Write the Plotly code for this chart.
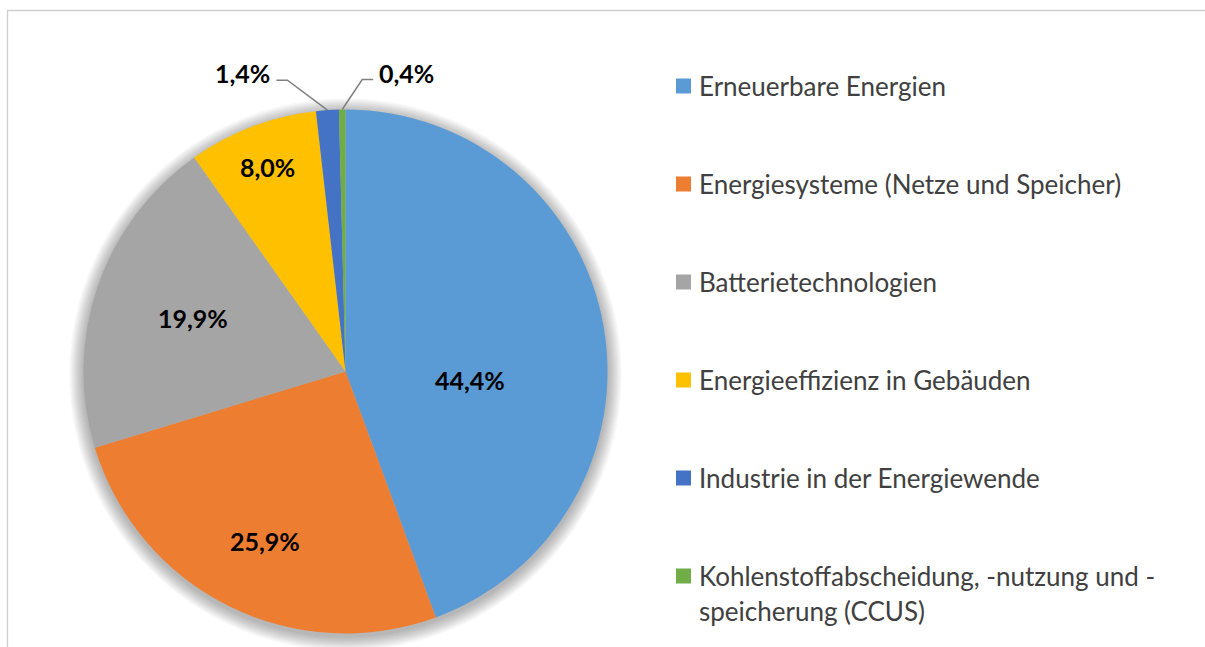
import math
import plotly.graph_objects as go

# Shares of funding by research area (percent)
categories = [
    "Erneuerbare Energien",
    "Energiesysteme (Netze und Speicher)",
    "Batterietechnologien",
    "Energieeffizienz in Gebäuden",
    "Industrie in der Energiewende",
    "Kohlenstoffabscheidung, -nutzung und -<br>speicherung (CCUS)",
]
shares = [44.4, 25.9, 19.9, 8.0, 1.4, 0.4]
colors = ["#5B9BD5", "#ED7D31", "#A5A5A5", "#FFC000", "#4472C4", "#70AD47"]

W, H = 1205, 647
CX, CY, R = 345.5, 371.5, 262          # pie centre and radius in pixels
FONT = "Lato"

# label placement: (radial fraction, angular nudge in degrees) for inside labels,
# callouts (elbow dx, elbow dy, tail length) for the thin slices
inside_pos = {0: (0.475, 13.8), 1: (0.715, -1.0), 2: (0.617, 0.6), 3: (0.836, 0.0)}
callouts = {4: (-40, -30, -11), 5: (20, -30, 11)}


def fmt(v):
    return f"{v:.1f}".replace(".", ",") + "%"


def dom(cx, cy, r):
    return dict(x=[(cx - r) / W, (cx + r) / W], y=[1 - (cy + r) / H, 1 - (cy - r) / H])


fig = go.Figure()

fig.add_trace(go.Pie(
    values=shares, labels=categories, sort=False, direction="clockwise", rotation=0,
    marker=dict(colors=colors, line=dict(width=0)),
    textinfo="none", showlegend=False, domain=dom(CX, CY, R),
))

# helper layer in pixel coordinates for callouts, legend and frame
fig.update_layout(
    xaxis=dict(range=[0, W], visible=False, fixedrange=True, domain=[0, 1]),
    yaxis=dict(range=[H, 0], visible=False, fixedrange=True, domain=[0, 1]),
)

shapes = []
# soft drop shadow behind the pie
for k in range(1, 14):
    r = R + k * 1.1
    shapes.append(dict(type="circle", xref="x", yref="y", layer="below",
                       x0=CX - r, x1=CX + r, y0=CY + 3 - r, y1=CY + 3 + r,
                       fillcolor="rgba(0,0,0,0.022)", line=dict(width=0)))

total = sum(shares)
annotations = []
cum = 0.0
for i, v in enumerate(shares):
    mid = (cum + v / 2) / total * 360.0
    cum += v
    if i in inside_pos:
        f, nudge = inside_pos[i]
        t = math.radians(mid + nudge)
        annotations.append(dict(
            x=CX + f * R * math.sin(t), y=CY - f * R * math.cos(t), xref="x", yref="y",
            text=fmt(v), showarrow=False,
            font=dict(family=FONT, size=25, color="#000000", weight="bold"),
        ))
    elif i in callouts:
        t = math.radians(mid)
        ex, ey = CX + R * math.sin(t), CY - R * math.cos(t)
        dx, dy, tail = callouts[i]
        bx, by = ex + dx, ey + dy
        tx = bx + tail
        fig.add_trace(go.Scatter(
            x=[ex, bx, tx], y=[ey, by, by], mode="lines", hoverinfo="skip",
            showlegend=False, line=dict(color="#808080", width=1.5),
        ))
        annotations.append(dict(
            x=tx + (4 if tail > 0 else -4), y=by - 7, xref="x", yref="y", text=fmt(v),
            xanchor="left" if tail > 0 else "right", yanchor="middle", showarrow=False,
            font=dict(family=FONT, size=25, color="#000000", weight="bold"),
        ))

# legend drawn at the right side
leg_x, leg_y0, leg_dy, sq = 676, 86, 98, 15
for i, (name, c) in enumerate(zip(categories, colors)):
    y = leg_y0 + i * leg_dy
    shapes.append(dict(type="rect", xref="x", yref="y", x0=leg_x, x1=leg_x + sq,
                       y0=y - sq / 2, y1=y + sq / 2, fillcolor=c, line=dict(width=0)))
    for j, line in enumerate(name.split("<br>")):
        annotations.append(dict(
            x=leg_x + sq + 6, y=y + j * 35, xref="x", yref="y", text=line,
            xanchor="left", yanchor="middle", showarrow=False,
            font=dict(family=FONT, size=26, color="#404040"),
        ))

# chart area frame
shapes.append(dict(type="path", xref="x", yref="y",
                   path=f"M 7.5 {H} L 7.5 10.5 L {W} 10.5",
                   line=dict(color="#cfcfcf", width=1.3)))

fig.update_layout(
    width=W, height=H, margin=dict(l=0, r=0, t=0, b=0),
    paper_bgcolor="white", plot_bgcolor="rgba(0,0,0,0)",
    annotations=annotations, shapes=shapes, showlegend=False,
)

fig.write_html("out.html")
